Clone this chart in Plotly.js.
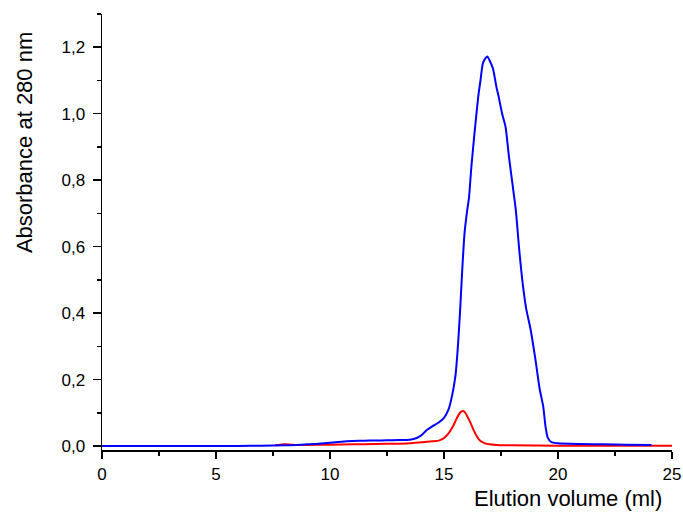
<!DOCTYPE html>
<html>
<head>
<meta charset="utf-8">
<script src="https://cdn.plot.ly/plotly-3.0.1.min.js"></script>
<style>html,body{margin:0;padding:0;background:#fff;}#chart{width:683px;height:515px;}</style>
</head>
<body>
<div id="chart"></div>
<script>
// Blue trace (elution profile)
const blueX = [0, 2, 4, 6, 7, 8, 8.5, 9, 9.5, 10, 10.5, 11, 11.5, 12, 12.5, 13, 13.5, 13.8, 14.0, 14.25, 14.5, 14.75, 15.0, 15.2, 15.35, 15.5, 15.6, 15.7, 15.8, 15.9, 16.0, 16.1, 16.2, 16.35, 16.5, 16.6, 16.7, 16.8, 16.9, 17.0, 17.15, 17.3, 17.4, 17.55, 17.7, 17.85, 18.0, 18.15, 18.3, 18.45, 18.6, 18.8, 19.0, 19.2, 19.35, 19.45, 19.55, 19.7, 20.0, 21, 22, 23, 24.1];
const blueY = [0, 0, 0, 0, 0.001, 0.002, 0.003, 0.005, 0.007, 0.010, 0.013, 0.015, 0.016, 0.0165, 0.017, 0.018, 0.019, 0.024, 0.032, 0.048, 0.060, 0.070, 0.085, 0.11, 0.15, 0.21, 0.29, 0.40, 0.53, 0.64, 0.70, 0.75, 0.84, 0.95, 1.05, 1.10, 1.15, 1.165, 1.172, 1.16, 1.135, 1.08, 1.05, 1.0, 0.96, 0.87, 0.79, 0.71, 0.59, 0.49, 0.415, 0.35, 0.265, 0.17, 0.12, 0.06, 0.025, 0.012, 0.008, 0.006, 0.005, 0.004, 0.003];

// Red trace
const redX = [7.6, 7.8, 8.0, 8.3, 8.6, 9, 10, 11, 12, 13, 13.5, 14, 14.5, 14.8, 15.0, 15.2, 15.4, 15.55, 15.7, 15.8, 15.9, 16.0, 16.15, 16.3, 16.45, 16.6, 16.8, 17.0, 17.3, 18, 20, 22, 25];
const redY = [0.002, 0.004, 0.005, 0.004, 0.003, 0.003, 0.004, 0.005, 0.006, 0.007, 0.008, 0.011, 0.014, 0.017, 0.024, 0.038, 0.060, 0.082, 0.100, 0.105, 0.103, 0.092, 0.072, 0.048, 0.028, 0.015, 0.008, 0.005, 0.003, 0.002, 0.001, 0.001, 0.001];

const xTitle = "Elution volume (ml)";
const yTitle = "Absorbance at 280 nm";

const FONT = '"Liberation Sans", Arial, sans-serif';

const traces = [
  {x: redX, y: redY, type: 'scatter', mode: 'lines', line: {color: 'rgb(255,0,0)', width: 2, shape: 'spline', smoothing: 0.6}, hoverinfo: 'skip'},
  {x: blueX, y: blueY, type: 'scatter', mode: 'lines', line: {color: 'rgb(0,0,255)', width: 2, shape: 'spline', smoothing: 0.6}, hoverinfo: 'skip'}
];

const layout = {
  width: 683, height: 515,
  margin: {l: 102, r: 11, t: 14, b: 65},
  paper_bgcolor: '#fff', plot_bgcolor: '#fff',
  showlegend: false,
  separators: ',.',
  font: {family: FONT, size: 17, color: '#000'},
  xaxis: {
    range: [0, 25], dtick: 5, tick0: 0,
    showgrid: false, zeroline: false,
    showline: true, linecolor: '#000', linewidth: 1.5,
    ticks: 'outside', ticklen: 7, tickwidth: 1.5, tickcolor: '#000',
    ticklabelstandoff: 1,
    minor: {dtick: 2.5, tick0: 0, ticks: 'outside', ticklen: 4, tickwidth: 1.5, tickcolor: '#000', showgrid: false},
    tickfont: {family: FONT, size: 17, color: '#000'}
  },
  yaxis: {
    range: [-0.012, 1.30], dtick: 0.2, tick0: 0, tickformat: '.1f',
    showgrid: false, zeroline: false,
    showline: true, linecolor: '#000', linewidth: 1.5,
    ticks: 'outside', ticklen: 8, tickwidth: 1.5, tickcolor: '#000',
    ticklabelstandoff: 4,
    minor: {dtick: 0.1, tick0: 0, ticks: 'outside', ticklen: 4, tickwidth: 1.5, tickcolor: '#000', showgrid: false},
    tickfont: {family: FONT, size: 17, color: '#000'}
  },
  annotations: [
    {text: yTitle, xref: 'paper', yref: 'paper', x: -0.136, y: 0.705, xanchor: 'center', yanchor: 'middle', textangle: -90, showarrow: false, font: {family: FONT, size: 22, color: '#000'}},
    {text: xTitle, xref: 'paper', yref: 'paper', x: 0.986, y: -0.112, xanchor: 'right', yanchor: 'middle', showarrow: false, font: {family: FONT, size: 22, color: '#000'}}
  ]
};

Plotly.newPlot('chart', traces, layout, {staticPlot: true, displayModeBar: false});
</script>
</body>
</html>
